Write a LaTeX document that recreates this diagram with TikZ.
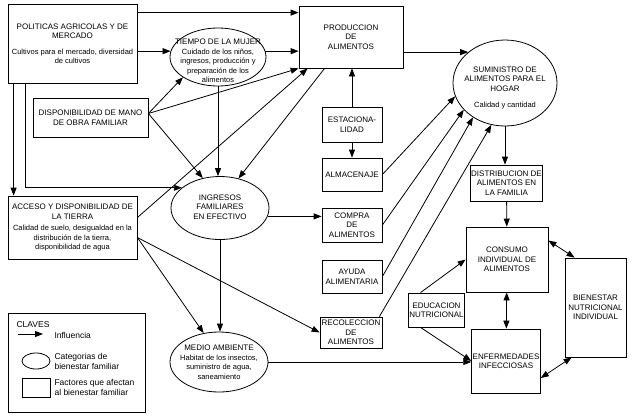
\documentclass[tikz,border=0pt]{standalone}
\usepackage{fontspec}
\setmainfont{Liberation Sans}
\usetikzlibrary{arrows.meta, shapes.geometric, positioning}
\newcommand{\dsc}{\fontsize{7.5}{10}\selectfont}
\newcommand{\ley}{\fontsize{8.5}{10}\selectfont}
\tikzset{
  factor/.style={
    draw,
    rectangle,
    line width=0.8pt,
    inner sep=1pt,
    align=center,
    font=\fontsize{8}{9.5}\selectfont,
  },
  categoria/.style={
    draw,
    ellipse,
    line width=0.8pt,
    inner sep=0pt,
  },
  etiqueta/.style={
    align=center,
    font=\fontsize{8}{9.5}\selectfont,
  },
  arrow/.style={
    -{Triangle[length=8pt,width=6pt]},
    line width=0.8pt
  },
  dblarrow/.style={
    arrow,
    {Triangle[length=8pt,width=6pt]}-{Triangle[length=8pt,width=6pt]}
  }
}

\begin{document}
\begin{tikzpicture}[x=1pt,y=-1pt]
\useasboundingbox (0,0) rectangle (632,416);

% factores
\node[factor, minimum width=129pt, minimum height=79pt] (pol) at (72.5,43.5)
  {POLITICAS AGRICOLAS Y DE\\MERCADO\\[6pt]\dsc Cultivos para el mercado, diversidad\\\dsc de cultivos};
\node[factor, minimum width=104pt, minimum height=62pt] (prod) at (351,37) {PRODUCCION\\DE\\ALIMENTOS};
\node[factor, minimum width=115pt, minimum height=39pt] (disp) at (90.5,117.5) {DISPONIBILIDAD DE MANO\\DE OBRA FAMILIAR};
\node[factor, minimum width=60pt, minimum height=35pt] (estac) at (352,124.5) {ESTACIONA-\\LIDAD};
\node[factor, minimum width=60pt, minimum height=33pt] (almac) at (352,174.5) {ALMACENAJE};
\node[factor, minimum width=60pt, minimum height=34pt] (compra) at (352,225) {COMPRA\\DE\\ALIMENTOS};
\node[factor, minimum width=60pt, minimum height=33pt] (ayuda) at (352,276.5) {AYUDA\\ALIMENTARIA};
\node[factor, minimum width=62pt, minimum height=31pt] (recol) at (351,332.5) {RECOLECCION\\DE\\ALIMENTOS};
\node[factor, minimum width=129pt, minimum height=63pt] (acceso) at (72.5,227.5)
  {ACCESO Y DISPONIBILIDAD DE\\LA TIERRA\\[2pt]\dsc Calidad de suelo, desigualdad en la\\\dsc distribución de la tierra,\\\dsc disponibilidad de agua};
\node[factor, minimum width=69pt, minimum height=36pt] (dist) at (506.5,183) {DISTRIBUCION DE\\ALIMENTOS EN\\LA FAMILIA};
\node[factor, minimum width=82pt, minimum height=65pt] (consumo) at (507,259.5) {CONSUMO\\INDIVIDUAL DE\\ALIMENTOS};
\node[factor, minimum width=55pt, minimum height=34pt] (educ) at (436.5,310) {EDUCACION\\NUTRICIONAL};
\node[factor, minimum width=68pt, minimum height=64pt] (enf) at (506,361) {ENFERMEDADES\\INFECCIOSAS};
\node[factor, minimum width=61pt, minimum height=99pt] (bien) at (595.5,307.5) {BIENESTAR\\NUTRICIONAL\\INDIVIDUAL};

% categorias
\node[categoria, minimum width=96pt, minimum height=58pt] (tiempo) at (218,57) {};
\node[etiqueta] (tiempo-txt) at (218,61)
  {TIEMPO DE LA MUJER\\\dsc Cuidado de los niños,\\\dsc ingresos, producción y\\\dsc preparación de los\\\dsc alimentos};
\node[categoria, minimum width=104pt, minimum height=86pt] (sum) at (505,83) {};
\node[etiqueta] (sum-txt) at (505,88) {SUMINISTRO DE\\ALIMENTOS PARA EL\\HOGAR\\[7pt]\dsc Calidad y cantidad};
\node[categoria, minimum width=98pt, minimum height=63pt] (ingresos) at (220,208) {};
\node[etiqueta] (ingresos-txt) at (220,207) {INGRESOS\\FAMILIARES\\EN EFECTIVO};
\node[categoria, minimum width=98pt, minimum height=60pt] (medio) at (219,362) {};
\node[etiqueta] (medio-txt) at (219,362)
  {MEDIO AMBIENTE\\\dsc Habitat de los insectos,\\\dsc suministro de agua,\\\dsc saneamiento};

% claves
\node[factor, minimum width=137pt, minimum height=99pt] (claves) at (77,362.5) {};
\node[anchor=west, font=\ley] (claves-txt) at (13,325) {CLAVES};
\coordinate (ley-a) at (18,334);
\coordinate (ley-b) at (43,334);
\draw[arrow] (ley-a) -- (ley-b);
\node[anchor=west, font=\ley] (ley-inf) at (51,335) {Influencia};
\node[categoria, minimum width=28pt, minimum height=16pt] (ley-cat) at (36,361) {};
\node[anchor=west, align=left, font=\ley] (ley-cat-txt) at (51,361) {Categorias de\\bienestar familiar};
\node[factor, minimum width=28pt, minimum height=19pt] (ley-fac) at (36,387.5) {};
\node[anchor=west, align=left, font=\ley] (ley-fac-txt) at (51,387) {Factores que afectan\\al bienestar familiar};

% politicas agricolas
\coordinate (pol-prod) at ([yshift=-7pt]prod.north west);
\draw[arrow] (pol-prod -| pol.east) -- (pol-prod);
\draw[arrow] (tiempo.173 -| pol.east) -- (tiempo.173);
\draw[arrow] ([xshift=6pt]pol.south west) -- ([xshift=6pt]acceso.north west);
\draw[arrow] ([xshift=18pt]pol.south west) |- (ingresos.152);

% tiempo de la mujer
\draw[arrow] (tiempo.7) -- (tiempo.7 -| prod.west);
\draw[arrow] (tiempo.south) -- (tiempo.south |- ingresos.north);

% mano de obra
\coordinate (disp-out) at ([yshift=4pt]disp.east);
\draw[arrow] (disp-out) -- (tiempo.210);
\draw[arrow] (disp-out) -- (prod.south west);
\draw[arrow] (disp-out) -- (ingresos.120);

% tierra
\draw[arrow] ([yshift=10pt]acceso.east) -- ([xshift=9pt]prod.south west);
\coordinate (acc-out) at ([yshift=-10pt]acceso.east);
\draw[arrow] (acc-out) -- (medio.118);
\draw[arrow] (acc-out) -- (recol.west);

% ingresos y medio ambiente
\draw[arrow] ([xshift=26pt]prod.south west) -- (ingresos.58);
\draw[arrow] (ingresos.350) -- (ingresos.350 -| compra.west);
\draw[arrow] (ingresos.south) -- (ingresos.south |- medio.north);
\draw[arrow] (medio.east) -- (medio.east -| enf.west);

% suministro de alimentos
\draw[arrow] (estac.north) -- (estac.north |- prod.south);
\draw[arrow] (estac) -- (almac);
\draw[arrow] (sum.140 -| prod.east) -- (sum.140);
\draw[arrow] (almac.east) -- (sum.195);
\draw[arrow] (compra.east) -- (sum.213);
\draw[arrow] (ayuda.east) -- (sum.227);
\draw[arrow] ([xshift=-3pt]recol.north east) -- (sum.252);

% bienestar individual
\draw[arrow] (sum.south) -- (sum.south |- dist.north);
\draw[arrow] (dist) -- (consumo);
\draw[dblarrow] (consumo) -- (enf);
\draw[dblarrow] ([yshift=19pt]consumo.east) -- ([xshift=10pt]bien.north west);
\draw[dblarrow] ([yshift=-17pt]enf.east) -- ([xshift=7pt]bien.south west);
\draw[arrow] ([xshift=-16pt]educ.north) -- (consumo.west);
\draw[arrow] ([xshift=-16pt]educ.south) -- (enf.west);

\end{tikzpicture}
\end{document}
